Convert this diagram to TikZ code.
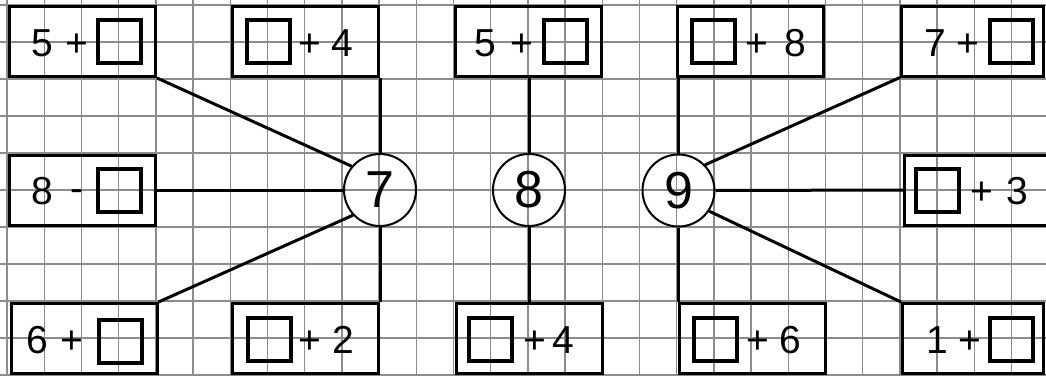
\documentclass[tikz,border=0pt]{standalone}
\usepackage{fontspec}
\setmainfont{Liberation Sans}
\definecolor{gridgray}{RGB}{140,140,140}
\begin{document}
\begin{tikzpicture}[x=0.5pt,y=-0.5pt,
 gridline/.style={draw=gridgray, line width=0.7pt},
 ebox/.style={draw, line width=1.5pt, minimum width=73pt, minimum height=35pt, inner sep=0pt},
 blank/.style={draw, line width=2pt, minimum size=21.5pt, inner sep=0pt},
 num/.style={circle, draw, line width=1pt, minimum size=36pt, inner sep=0pt, font=\fontsize{26}{26}\selectfont},
 lbl/.style={inner sep=0pt, anchor=base, font=\fontsize{19.5}{20}\selectfont},
 link/.style={line width=1.5pt}]
\useasboundingbox (0,0) rectangle (1046,376);
% grid
\foreach \k in {0,...,27} \draw[gridline] ({7+37.2*\k},0) -- ({7+37.2*\k},376);
\foreach \k in {0,...,10} \draw[gridline] (0,{5+37*\k}) -- (1046,{5+37*\k});
% boxes
\node[ebox] (A1) at (82.5,41.5) {};
\node[ebox] (A2) at (82.5,190) {};
\node[ebox] (A3) at (84,338.5) {};
\node[ebox] (B1) at (305.5,41.5) {};
\node[ebox] (B3) at (305.5,338.5) {};
\node[ebox] (C1) at (528.5,41) {};
\node[ebox] (C3) at (529.5,338.5) {};
\node[ebox] (D1) at (750.5,41) {};
\node[ebox] (D3) at (752.5,338.5) {};
\node[ebox, minimum width=71pt] (E1) at (972.5,41) {};
\node[ebox] (E2) at (977.5,190) {};
\node[ebox, minimum width=70.5pt] (E3) at (973,338.5) {};
% blanks
\node[blank] (A1s) at (119.5,41) {};
\node[blank] (A2s) at (119.5,190) {};
\node[blank] (A3s) at (120,341) {};
\node[blank] (B1s) at (268.5,41) {};
\node[blank] (B3s) at (269.5,339.5) {};
\node[blank] (C1s) at (565.5,41) {};
\node[blank] (C3s) at (490.7,339) {};
\node[blank] (D1s) at (713.7,41) {};
\node[blank] (D3s) at (715,339) {};
\node[blank] (E1s) at (1011.5,41) {};
\node[blank] (E2s) at (937,190) {};
\node[blank] (E3s) at (1011.5,339) {};
% labels
\node[lbl] (A1a) at (42,56) {5};
\node[lbl] (A1b) at (77,56) {+};
\node[lbl] (A2a) at (42,204.5) {8};
\node[lbl] (A2b) at (77,201) {-};
\node[lbl] (A3a) at (37,353) {6};
\node[lbl] (A3b) at (72,353) {+};
\node[lbl] (B1b) at (310,56) {+};
\node[lbl] (B1a) at (342,56) {4};
\node[lbl] (B3b) at (310,353) {+};
\node[lbl] (B3a) at (343,353) {2};
\node[lbl] (C1a) at (485,56) {5};
\node[lbl] (C1b) at (522,56) {+};
\node[lbl] (C3b) at (535,353) {+};
\node[lbl] (C3a) at (563,353) {4};
\node[lbl] (D1b) at (757,56) {+};
\node[lbl] (D1a) at (795,56) {8};
\node[lbl] (D3b) at (758,353) {+};
\node[lbl] (D3a) at (790,353) {6};
\node[lbl] (E1a) at (935,56) {7};
\node[lbl] (E1b) at (968,56) {+};
\node[lbl] (E2b) at (982,204.5) {+};
\node[lbl] (E2a) at (1017,204.5) {3};
\node[lbl] (E3a) at (937,353) {1};
\node[lbl] (E3b) at (970,353) {+};
% circles
\node[num] (c7) at (380,190) {7};
\node[num] (c8) at (529,190) {8};
\node[num] (c9) at (678.5,190.5) {9};
% connectors
\draw[link] (A1.south east) -- (c7.140);
\draw[link] (A2.east) -- (c7.west);
\draw[link] (A3.north east) -- (c7.223);
\draw[link] (c7.north) -- (c7.north |- B1.south);
\draw[link] (c7.south) -- (c7.south |- B3.north);
\draw[link] (c8.north) -- (c8.north |- C1.south);
\draw[link] (c8.south) -- (c8.south |- C3.north);
\draw[link] (c9.north) -- (c9.north |- D1.south);
\draw[link] (c9.south) -- (c9.south |- D3.north);
\draw[link] (c9.44) -- (E1.south west);
\draw[link] (c9.east) -- (E2.west);
\draw[link] (c9.-34) -- (E3.north west);
\end{tikzpicture}
\end{document}
